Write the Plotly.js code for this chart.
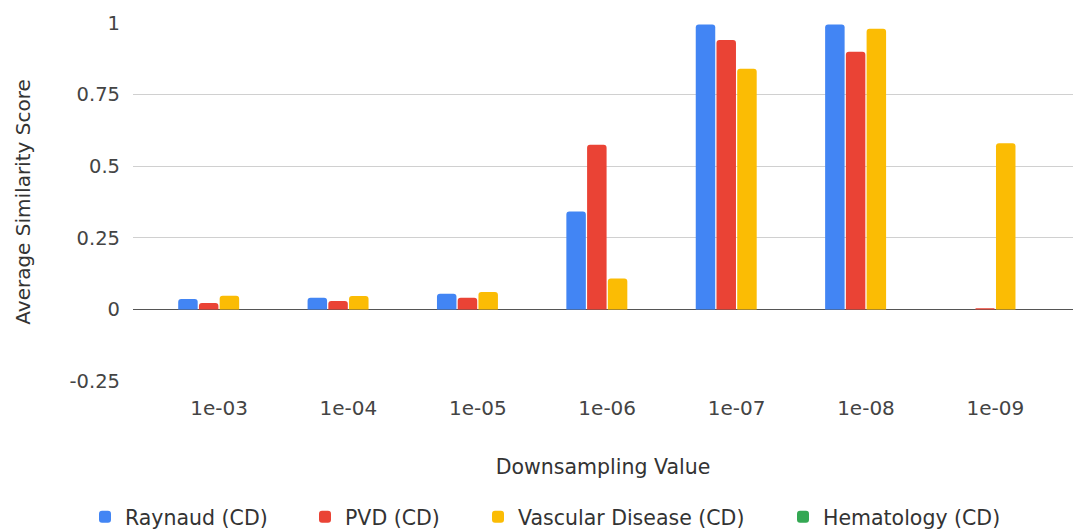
<!DOCTYPE html>
<html>
<head>
<meta charset="utf-8">
<script src="https://cdn.plot.ly/plotly-3.0.1.min.js"></script>
<style>
  html, body { margin: 0; padding: 0; background: #fff; }
  #chart { width: 1073px; height: 529px; }
</style>
</head>
<body>
<div id="chart"></div>
<script>
// Downsampling thresholds on the x axis
const categories = ["1e-03", "1e-04", "1e-05", "1e-06", "1e-07", "1e-08", "1e-09"];

// Average similarity score per disease group
const raynaud    = [0.036, 0.041, 0.055, 0.342, 0.995, 0.995, 0];
const pvd        = [0.022, 0.029, 0.041, 0.575, 0.941, 0.900, 0.004];
const vascular   = [0.048, 0.047, 0.061, 0.108, 0.840, 0.980, 0.580];
const hematology = [0, 0, 0, 0, 0, 0, 0];

// Y axis ticks
const yTickVals = [-0.25, 0, 0.25, 0.5, 0.75, 1];
const yTickText = ["-0.25", "0", "0.25", "0.5", "0.75", "1"];

const FONT = "DejaVu Sans, Liberation Sans, Arial, sans-serif";
const W = 1073, H = 529;

function series(name, values, color, legendId) {
  return {
    type: "bar",
    name: name,
    x: categories,
    y: values,
    legend: legendId,
    marker: { color: color, line: { width: 0 } },
    hoverinfo: "x+y+name"
  };
}

const data = [
  series("Raynaud (CD)", raynaud, "#4285F4", "legend"),
  series("PVD (CD)", pvd, "#EA4335", "legend2"),
  series("Vascular Disease (CD)", vascular, "#FBBC04", "legend3"),
  series("Hematology (CD)", hematology, "#34A853", "legend4")
];

// one legend box per series, laid out in a row along the bottom
function legendAt(textLeftPx) {
  return {
    orientation: "h",
    xref: "container",
    yref: "container",
    x: (textLeftPx - 40) / W,
    xanchor: "left",
    y: (H - 517) / H,
    yanchor: "middle",
    font: { family: FONT, size: 20.5, color: "#333" },
    bgcolor: "rgba(0,0,0,0)",
    borderwidth: 0
  };
}

const layout = {
  width: W,
  height: H,
  margin: { l: 133, r: 0, t: 23, b: 148, pad: 0 },
  paper_bgcolor: "#ffffff",
  plot_bgcolor: "#ffffff",
  font: { family: FONT, size: 20, color: "#444" },
  barmode: "group",
  bargap: 0.359,
  bargroupgap: 0.06,
  barcornerradius: 3,
  showlegend: true,
  legend: legendAt(125),
  legend2: legendAt(345),
  legend3: legendAt(518),
  legend4: legendAt(823),
  xaxis: {
    type: "category",
    range: [-0.665, 6.6],
    showgrid: false,
    zeroline: false,
    showline: false,
    ticks: "",
    ticklabelstandoff: 13,
    tickfont: { family: FONT, size: 20, color: "#444" },
    title: {
      text: "Downsampling Value",
      font: { family: FONT, size: 20.5, color: "#333" },
      standoff: 40
    },
    fixedrange: true
  },
  yaxis: {
    range: [-0.25, 1],
    tickmode: "array",
    tickvals: yTickVals,
    ticktext: yTickText,
    showgrid: true,
    gridcolor: "#d0d0d0",
    gridwidth: 1,
    zeroline: true,
    zerolinecolor: "#555",
    zerolinewidth: 1.5,
    showline: false,
    ticks: "",
    ticklabelstandoff: 12,
    tickfont: { family: FONT, size: 19.5, color: "#444" },
    title: {
      text: "Average Similarity Score",
      font: { family: FONT, size: 20, color: "#333" },
      standoff: 33
    },
    fixedrange: true
  }
};

Plotly.newPlot("chart", data, layout, { displayModeBar: false, staticPlot: true });
</script>
</body>
</html>
